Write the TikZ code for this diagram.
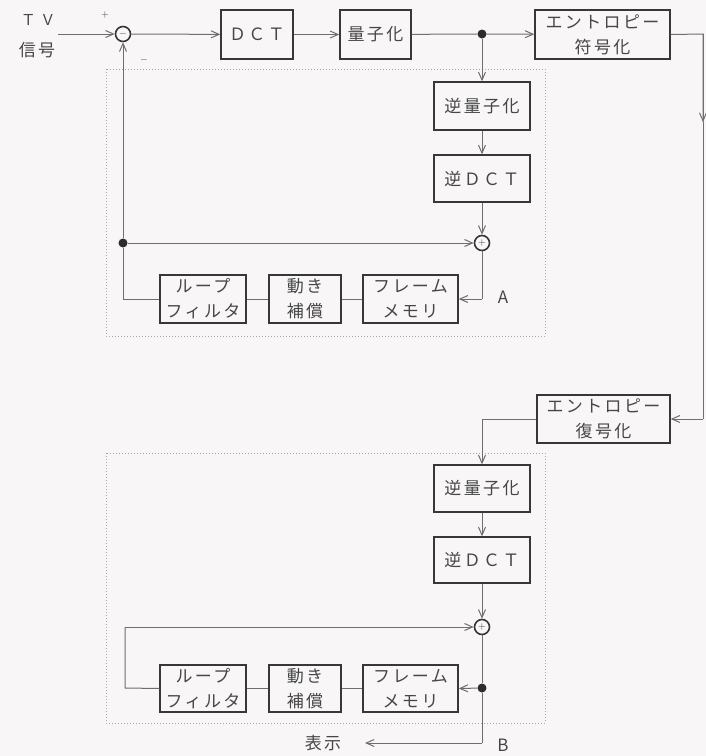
\documentclass[tikz,border=0pt]{standalone}
\usepackage{fontspec}
\newfontfamily\jp[LetterSpace=14]{Noto Sans CJK JP}
\newfontfamily\jpw[LetterSpace=30]{Noto Sans CJK JP}
\usetikzlibrary{arrows.meta}
\definecolor{bgc}{RGB}{248,246,246}
\definecolor{boxc}{RGB}{55,55,55}
\definecolor{linec}{RGB}{110,110,110}
\definecolor{txtc}{RGB}{70,70,70}
\definecolor{dotc}{RGB}{170,170,170}
\tikzset{
  box/.style={draw=boxc, line width=1.4pt, rectangle, inner sep=0pt, align=center,
    font=\jp\fontsize{17}{25}\selectfont, text=txtc},
  conn/.style={draw=linec, line width=1pt},
  arr/.style={conn, -{Straight Barb[length=8pt,width=7pt,line width=1pt]}},
  junc/.style={circle, draw=boxc, line width=1.6pt, minimum size=15pt, inner sep=0pt},
  dotn/.style={circle, fill=boxc!80!black, minimum size=9pt, inner sep=0pt},
  frame/.style={draw=dotc, line width=1pt, dotted},
  lbl/.style={font=\jp\fontsize{17}{25}\selectfont, text=txtc, inner sep=0pt, align=center},
  sgn/.style={font=\fontsize{10}{10}\selectfont, text=boxc, inner sep=0pt}
}
\begin{document}
\begin{tikzpicture}[x=1pt,y=-1pt]
\fill[bgc] (0,0) rectangle (706,756);
\useasboundingbox (0,0) rectangle (706,756);
% frames
\draw[frame] (106,69) rectangle (545,336);
\draw[frame] (106,453) rectangle (545,723);
% top row
\node[lbl, font=\jpw\fontsize{15}{25}\selectfont] (tv) at (38,20) {ＴＶ};
\node[lbl] (sig) at (37,50) {信号};
\coordinate (in) at (58,34);
\node[junc] (sub) at (123,34) {};
\node[sgn] (subm) at (123,34) {$-$};
\node[sgn] (plus) at (105,15) {$+$};
\node[sgn] (minus) at (144,60) {$-$};
\node[box, minimum width=72pt, minimum height=49pt] (dct) at (257,34.5) {ＤＣＴ};
\node[box, minimum width=71pt, minimum height=49pt] (q) at (375.5,34.5) {量子化};
\node[dotn] (d1) at (482,34) {};
\node[box, minimum width=135pt, minimum height=49pt] (enc) at (602.5,34.5) {エントロピー\\符号化};
% upper loop
\node[box, minimum width=96pt, minimum height=48pt] (iq1) at (482,106) {逆量子化};
\node[box, minimum width=96pt, minimum height=47pt] (idct1) at (482,178.5) {逆ＤＣＴ};
\node[junc] (sum1) at (482,243) {};
\node[sgn] (sum1p) at (482,243) {$+$};
\node[dotn] (d2) at (123,243) {};
\node[box, minimum width=86pt, minimum height=48pt] (lf1) at (203,299) {ループ\\フィルタ};
\node[box, minimum width=72pt, minimum height=48pt] (mc1) at (305,299) {動き\\補償};
\node[box, minimum width=95pt, minimum height=48pt] (fm1) at (410.5,299) {フレーム\\メモリ};
\coordinate (a1) at (482,299);
\coordinate (l1) at (123,299);
\node[lbl] (la) at (503,297) {A};
% right side
\coordinate (r1) at (703,34);
\coordinate (r2) at (703,122);
\coordinate (r3) at (703,419);
\node[box, minimum width=133pt, minimum height=48pt] (dec) at (603.5,419) {エントロピー\\復号化};
\coordinate (dl) at (482,419);
% lower loop
\node[box, minimum width=96pt, minimum height=47pt] (iq2) at (482,488.5) {逆量子化};
\node[box, minimum width=96pt, minimum height=46pt] (idct2) at (482,560) {逆ＤＣＴ};
\node[junc] (sum2) at (482,627) {};
\node[sgn] (sum2p) at (482,627) {$+$};
\node[dotn] (d3) at (482,688) {};
\node[box, minimum width=86pt, minimum height=47pt] (lf2) at (203,688.5) {ループ\\フィルタ};
\node[box, minimum width=72pt, minimum height=47pt] (mc2) at (305,688.5) {動き\\補償};
\node[box, minimum width=95pt, minimum height=47pt] (fm2) at (410.5,688.5) {フレーム\\メモリ};
\coordinate (l2a) at (125,688);
\coordinate (l2b) at (125,627);
\coordinate (b1) at (482,743);
\coordinate (outp) at (365,743);
\node[lbl] (disp) at (323,743) {表示};
\node[lbl] (lb) at (503,745) {B};
% connectors top
\draw[arr] (in) -- (sub);
\draw[arr] (sub) -- (dct);
\draw[arr] (dct) -- (q);
\draw[conn] (q) -- (d1);
\draw[arr] (d1) -- (enc);
\draw[conn] (enc.east) -- (r1) -- (r2);
\draw[arr] (r1) -- (r2);
\draw[conn] (r2) -- (r3);
\draw[arr] (r3) -- (dec.east);
% upper loop
\draw[arr] (d1) -- (iq1);
\draw[arr] (iq1) -- (idct1);
\draw[arr] (idct1) -- (sum1);
\draw[arr] (d2) -- (sum1);
\draw[conn] (sum1) -- (a1);
\draw[arr] (a1) -- (fm1.east);
\draw[conn] (fm1) -- (mc1);
\draw[conn] (mc1) -- (lf1);
\draw[conn] (lf1.west) -- (l1) -- (d2);
\draw[arr] (d2) -- (sub);
% lower
\draw[conn] (dec.west) -- (dl);
\draw[arr] (dl) -- (iq2);
\draw[arr] (iq2) -- (idct2);
\draw[arr] (idct2) -- (sum2);
\draw[conn] (sum2) -- (d3) -- (b1);
\draw[arr] (b1) -- (outp);
\draw[arr] (d3) -- (fm2.east);
\draw[conn] (fm2) -- (mc2);
\draw[conn] (mc2) -- (lf2);
\draw[conn] (lf2.west) -- (l2a) -- (l2b);
\draw[arr] (l2b) -- (sum2);
\end{tikzpicture}
\end{document}
